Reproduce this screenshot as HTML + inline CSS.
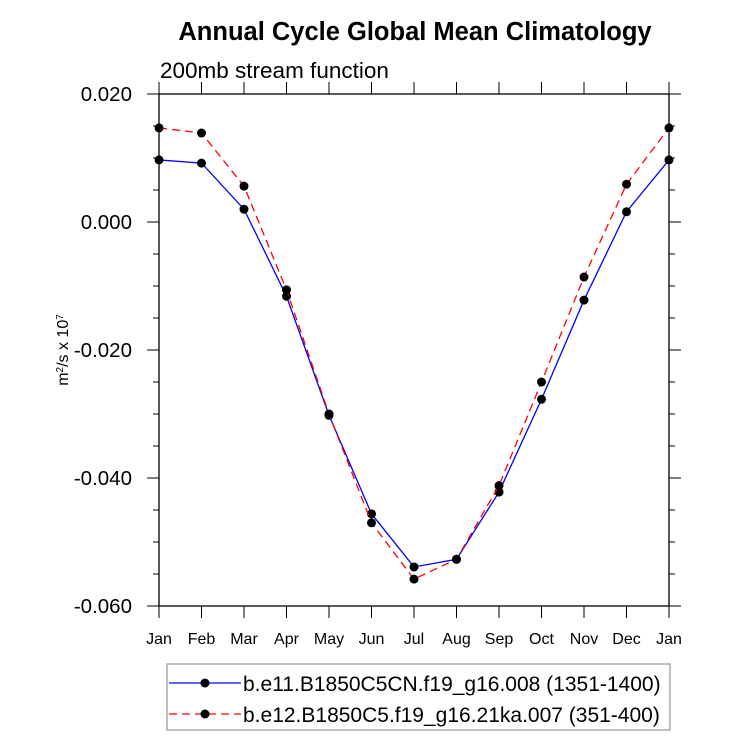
<!DOCTYPE html>
<html><head><meta charset="utf-8"><style>
body{margin:0;background:#fff}
svg text{font-family:"Liberation Sans",Helvetica,Arial,sans-serif}
</style></head><body>
<svg width="733" height="739" viewBox="0 0 733 739" id="chart" xmlns="http://www.w3.org/2000/svg">
<text x="415" y="40" text-anchor="middle" font-size="25.5" font-weight="bold">Annual Cycle Global Mean Climatology</text>
<text x="160" y="78" font-size="22.5">200mb stream function</text>
<text transform="translate(68,350) rotate(-90)" text-anchor="middle" font-size="16">m<tspan baseline-shift="super" font-size="10">2</tspan>/s x 10<tspan baseline-shift="super" font-size="10">7</tspan></text>
<g id="axes"></g>
<g id="series"></g>
<g>
<rect x="167" y="664" width="503" height="66" fill="none" stroke="#aaa" stroke-width="1.5"/>
<line x1="169" y1="683" x2="241" y2="683" stroke="#0000ff" stroke-width="1.3"/>
<circle cx="205" cy="683" r="4.5" fill="#000"/>
<text x="243" y="691" font-size="21">b.e11.B1850C5CN.f19_g16.008 (1351-1400)</text>
<line x1="169" y1="714" x2="241" y2="714" stroke="#ff0000" stroke-width="1.3" stroke-dasharray="8,5"/>
<circle cx="205" cy="714" r="4.5" fill="#000"/>
<text x="243" y="722" font-size="21">b.e12.B1850C5.f19_g16.21ka.007 (351-400)</text>
</g>
</svg>
<script>
const months=["Jan","Feb","Mar","Apr","May","Jun","Jul","Aug","Sep","Oct","Nov","Dec","Jan"];
const yTicks=[0.020,0.000,-0.020,-0.040,-0.060];
const yTickLabels=["0.020","0.000","-0.020","-0.040","-0.060"];
const blueVals=[0.0097,0.0092,0.0020,-0.0116,-0.0302,-0.0456,-0.0539,-0.0527,-0.0422,-0.0277,-0.0122,0.0016,0.0097];
const redVals=[0.0147,0.0139,0.0056,-0.0106,-0.0300,-0.0470,-0.0558,-0.0527,-0.0412,-0.0250,-0.0086,0.0059,0.0147];
const NS="http://www.w3.org/2000/svg";
const L=159,R=669,T=94,B=606,ymax=0.02,ymin=-0.06;
const xs=i=>L+(R-L)*i/(months.length-1);
const ys=v=>T+(ymax-v)/(ymax-ymin)*(B-T);
function mk(tag,attrs,parent){const e=document.createElementNS(NS,tag);for(const k in attrs)e.setAttribute(k,attrs[k]);parent.appendChild(e);return e;}
const ax=document.getElementById('axes');
const frame=mk('rect',{x:L,y:T,width:R-L,height:B-T,fill:'none',stroke:'#000','stroke-width':1.3},ax);


for(let v=ymax;v>=ymin-1e-9;v-=0.005){
  const major=Math.abs(Math.round(v*1000)%20)<1e-6;
  const len=major?12:6,y=ys(v);
  mk('line',{x1:L-len,y1:y,x2:L,y2:y,stroke:'#000','stroke-width':1},ax);
  mk('line',{x1:R,y1:y,x2:R+len,y2:y,stroke:'#000','stroke-width':1},ax);
}
yTicks.forEach((v,i)=>{
  const t=mk('text',{x:L-27,y:ys(v)+7,'text-anchor':'end','font-size':20.5},ax);
  t.textContent=yTickLabels[i];
  
  
});
months.forEach((m,i)=>{
  const x=xs(i);
  mk('line',{x1:x,y1:B,x2:x,y2:B+12,stroke:'#000','stroke-width':1},ax);
  mk('line',{x1:x,y1:T-12,x2:x,y2:T,stroke:'#000','stroke-width':1},ax);
  const t=mk('text',{x:x,y:B+38,'text-anchor':'middle','font-size':16},ax);
  t.textContent=m;
  
  
});
const sg=document.getElementById('series');
function series(vals,color,dash,name){
  const g=mk('g',{},sg);
  
  
  const pts=vals.map((v,i)=>xs(i)+','+ys(v)).join(' ');
  const a={points:pts,fill:'none',stroke:color,'stroke-width':1.3};
  if(dash)a['stroke-dasharray']=dash;
  mk('polyline',a,g);
  vals.forEach((v,i)=>{
    const c=mk('circle',{cx:xs(i),cy:ys(v),r:4.5,fill:'#000'},g);
    
    
  });
}
series(blueVals,'#0000ff',null,'series-b-e11');
series(redVals,'#ff0000','8,5','series-b-e12');
</script>
</body></html>
